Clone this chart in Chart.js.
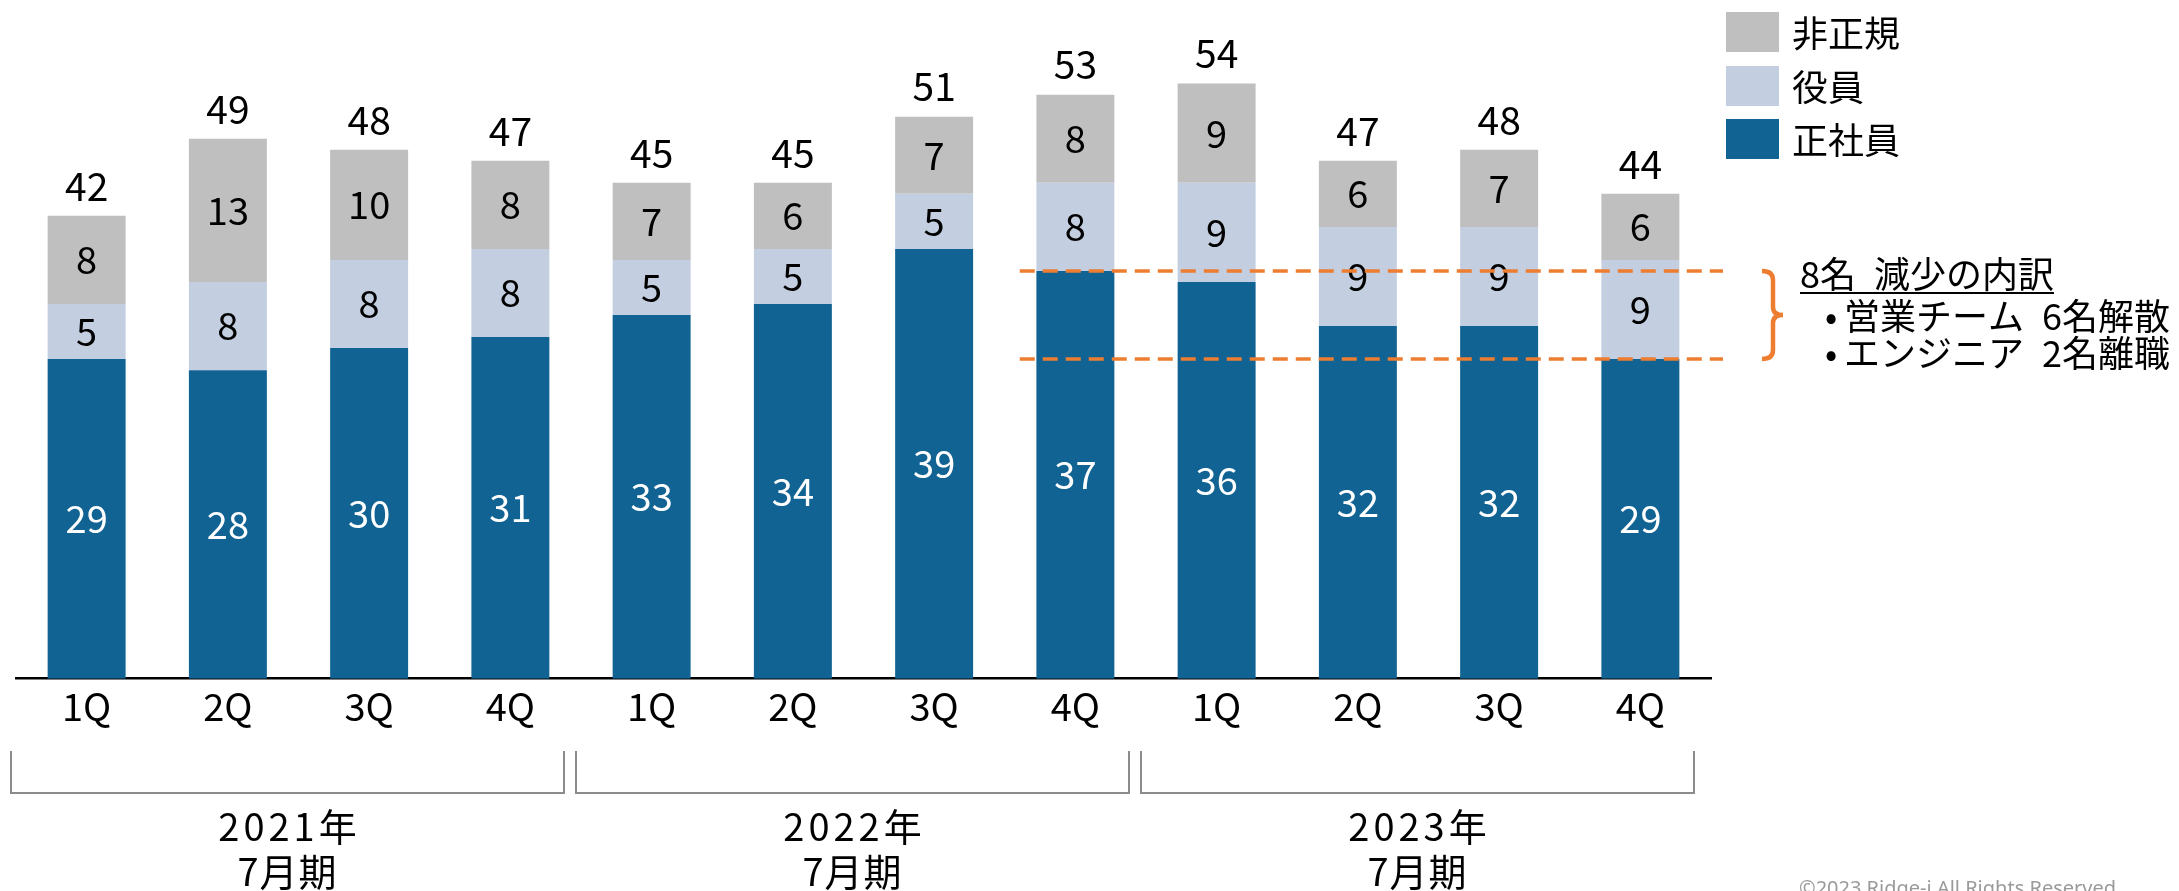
<!DOCTYPE html>
<html><head><meta charset="utf-8">
<script src="https://cdn.jsdelivr.net/npm/chart.js@4.4.0/dist/chart.umd.min.js"></script>
<style>html,body{margin:0;padding:0;background:#fff;overflow:hidden}canvas{display:block}</style>
</head><body>
<canvas id="c" width="2179" height="891"></canvas>
<script>
const quarters = ['1Q','2Q','3Q','4Q','1Q','2Q','3Q','4Q','1Q','2Q','3Q','4Q'];
const fiscalYears = ['2021年','2022年','2023年'];
const fiscalSuffix = '7月期';
const seishain = [29,28,30,31,33,34,39,37,36,32,32,29];
const yakuin   = [5,8,8,8,5,5,5,8,9,9,9,9];
const hiseiki  = [8,13,10,8,7,6,7,8,9,6,7,6];
const totals   = [42,49,48,47,45,45,51,53,54,47,48,44];
const seriesNames = ['正社員','役員','非正規'];
const noteTitle = '8名\u2002減少の内訳';
const noteLines = ['営業チーム\u20026名解散','エンジニア\u20022名離職'];
const noteFromIdx = 7, noteToIdx = 11;
const copyright = '©2023 Ridge-i All Rights Reserved';

const F = "'Noto Sans CJK JP','Noto Sans',sans-serif";
const C_DARK = '#116393', C_LIGHT = '#C3CEE0', C_GRAY = '#BFBFBF', C_ORANGE = '#ED7D31';
const colors = [C_DARK, C_LIGHT, C_GRAY];

const overlay = {
  id: 'overlay',
  afterDatasetsDraw(chart) {
    const ctx = chart.ctx;
    const xs = chart.scales.x, ys = chart.scales.y;
    const catW = (xs.right - xs.left) / quarters.length;
    ctx.save();
    ctx.textAlign = 'center';
    ctx.textBaseline = 'middle';
    // segment labels
    chart.data.datasets.forEach((ds, di) => {
      const meta = chart.getDatasetMeta(di);
      meta.data.forEach((bar, i) => {
        ctx.font = `38px ${F}`;
        ctx.fillStyle = di === 0 ? '#FFFFFF' : '#000000';
        ctx.fillText(String(ds.data[i]), bar.x, (bar.y + bar.base) / 2);
      });
    });
    // totals
    const topMeta = chart.getDatasetMeta(2);
    topMeta.data.forEach((bar, i) => {
      ctx.font = `39px ${F}`;
      ctx.fillStyle = '#000';
      ctx.fillText(String(totals[i]), bar.x, bar.y - 30);
    });
    // legend
    const legendOrder = [2, 1, 0];
    const swTops = [12, 66, 119];
    legendOrder.forEach((di, k) => {
      ctx.fillStyle = colors[di];
      ctx.fillRect(1726, swTops[k], 53, 40);
      ctx.fillStyle = '#000';
      ctx.textAlign = 'left';
      ctx.font = `36px ${F}`;
      ctx.fillText(seriesNames[di], 1792, swTops[k] + 21);
    });
    // dashed reference lines
    const yA = ys.getPixelForValue(seishain[noteFromIdx]);
    const yB = ys.getPixelForValue(seishain[noteToIdx]);
    const xStart = xs.getPixelForValue(noteFromIdx) - catW / 2 + 15;
    const xEnd = xs.right + 12;
    ctx.strokeStyle = C_ORANGE;
    ctx.lineWidth = 3.5;
    ctx.setLineDash([15, 8]);
    [yA, yB].forEach(y => {
      ctx.beginPath(); ctx.moveTo(xStart, y); ctx.lineTo(xEnd, y); ctx.stroke();
    });
    ctx.setLineDash([]);
    // curly brace
    const x0 = xs.right + 51, x1 = xs.right + 62, x2 = xs.right + 72;
    const yM = (yA + yB) / 2;
    ctx.lineWidth = 4.5;
    ctx.beginPath();
    ctx.moveTo(x0, yA);
    ctx.quadraticCurveTo(x1, yA, x1, yA + 9);
    ctx.lineTo(x1, yM - 8);
    ctx.quadraticCurveTo(x1, yM, x2, yM);
    ctx.quadraticCurveTo(x1, yM, x1, yM + 8);
    ctx.lineTo(x1, yB - 9);
    ctx.quadraticCurveTo(x1, yB, x0, yB);
    ctx.stroke();
    // annotation text
    ctx.fillStyle = '#000';
    ctx.textAlign = 'left';
    ctx.font = `36px ${F}`;
    ctx.fillText(noteTitle, 1800, yA + 3);
    const tw = ctx.measureText(noteTitle).width;
    ctx.strokeStyle = '#000'; ctx.lineWidth = 2;
    ctx.beginPath(); ctx.moveTo(1800, yA + 22); ctx.lineTo(1800 + tw, yA + 22); ctx.stroke();
    noteLines.forEach((t, k) => {
      const y = yA + 45 + k * 37;
      ctx.fillText('•', 1825, y);
      ctx.fillText(t, 1844, y);
    });
    // year brackets
    ctx.strokeStyle = '#8C8C8C';
    ctx.lineWidth = 2;
    ctx.textAlign = 'center';
    fiscalYears.forEach((yr, g) => {
      const l = xs.left + g * 4 * catW - 5;
      const r = xs.left + (g + 1) * 4 * catW - 17;
      ctx.beginPath();
      ctx.moveTo(l, 751); ctx.lineTo(l, 793); ctx.lineTo(r, 793); ctx.lineTo(r, 751);
      ctx.stroke();
      ctx.fillStyle = '#000';
      ctx.font = `38px ${F}`;
      ctx.letterSpacing = '4px';
      ctx.fillText(yr, (l + r) / 2 + 2, 827);
      ctx.letterSpacing = '1px';
      ctx.fillText(fiscalSuffix, (l + r) / 2, 872);
      ctx.letterSpacing = '0px';
    });
    // copyright
    ctx.textAlign = 'left';
    ctx.textBaseline = 'alphabetic';
    ctx.fillStyle = '#9A9A9A';
    ctx.font = `20px 'Noto Sans',sans-serif`;
    ctx.fillText(copyright, 1799, 895);
    ctx.restore();
  }
};

new Chart(document.getElementById('c').getContext('2d'), {
  type: 'bar',
  data: {
    labels: quarters,
    datasets: [
      { label: seriesNames[0], data: seishain, backgroundColor: C_DARK },
      { label: seriesNames[1], data: yakuin, backgroundColor: C_LIGHT },
      { label: seriesNames[2], data: hiseiki, backgroundColor: C_GRAY }
    ]
  },
  options: {
    responsive: false,
    animation: false,
    devicePixelRatio: 1,
    layout: { padding: { left: 16, right: 468, top: 17.5, bottom: 0 } },
    datasets: { bar: { barPercentage: 0.552, categoryPercentage: 1 } },
    plugins: { legend: { display: false }, tooltip: { enabled: false } },
    scales: {
      x: {
        stacked: true,
        grid: { display: false, drawTicks: false },
        border: { display: true, color: '#000', width: 2.5 },
        ticks: { font: { size: 38, family: F }, color: '#000', padding: 5, autoSkip: false, maxRotation: 0 },
        afterFit(s) { s.height = 212.3; }
      },
      y: { stacked: true, display: false, min: 0, max: 60 }
    }
  },
  plugins: [overlay]
});
</script>
</body></html>
